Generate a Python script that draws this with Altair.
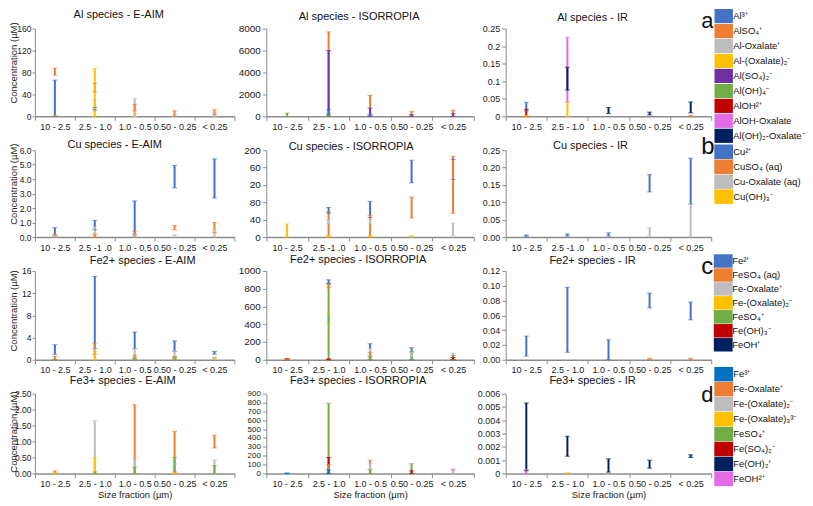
import altair as alt
import pandas as pd

FONT = "Liberation Sans"

FRACTIONS = ["10 - 2.5", "2.5 - 1.0", "1.0 - 0.5", "0.50 - 0.25", "< 0.25"]
FRACTIONS_CU = ["10 - 2.5", "2.5 -1 .0", "1.0 - 0.5", "0.50 - 0.25", "< 0.25"]

AL_SPECIES = ["Al³⁺", "AlSO₄⁺", "Al-Oxalate⁺", "Al-(Oxalate)₂⁻", "Al(SO₄)₂⁻",
              "Al(OH)₄⁻", "AlOH²⁺", "AlOH-Oxalate", "Al(OH)₂-Oxalate⁻"]
AL_COLORS = ["#4472C4", "#ED7D31", "#BDBDBD", "#FFC000", "#7030A0",
             "#70AD47", "#C00000", "#E36BE3", "#002060"]
CU_SPECIES = ["Cu²⁺", "CuSO₄ (aq)", "Cu-Oxalate (aq)", "Cu(OH)₃⁻"]
CU_COLORS = ["#4472C4", "#ED7D31", "#BDBDBD", "#FFC000"]
FE2_SPECIES = ["Fe²⁺", "FeSO₄ (aq)", "Fe-Oxalate⁺", "Fe-(Oxalate)₂⁻", "FeSO₄⁺", "Fe(OH)₃⁻", "FeOH⁺"]
FE2_COLORS = ["#4472C4", "#ED7D31", "#BDBDBD", "#FFC000", "#70AD47", "#C00000", "#002060"]
FE3_SPECIES = ["Fe³⁺", "Fe-Oxalate⁺", "Fe-(Oxalate)₂⁻", "Fe-(Oxalate)₃³⁻", "FeSO₄⁺",
               "Fe(SO₄)₂⁻", "Fe(OH)₂⁺", "FeOH²⁺"]
FE3_COLORS = ["#0070C0", "#ED7D31", "#BDBDBD", "#FFC000", "#70AD47", "#C00000", "#002060", "#E36BE3"]

# (fraction index, species index, low, high) in drawing order
AL_EAIM = [(0, 3, 0, 2), (0, 0, 0, 66), (0, 1, 75, 88),
           (1, 2, 10, 30), (1, 0, 12, 16), (1, 1, 45, 60), (1, 3, 0, 87),
           (2, 3, 0, 5), (2, 2, 0, 32), (2, 1, 10, 22),
           (3, 2, 0, 4), (3, 1, 0, 10),
           (4, 2, 0, 7), (4, 1, 3, 12)]
AL_ISO = [(0, 5, 0, 300),
          (1, 1, 0, 7700), (1, 4, 0, 6000), (1, 0, 200, 600), (1, 5, 0, 100),
          (2, 1, 0, 1900), (2, 4, 0, 750), (2, 0, 100, 200),
          (3, 1, 0, 450), (3, 4, 0, 150),
          (4, 1, 0, 550), (4, 4, 0, 250)]
AL_IR = [(0, 0, 0.015, 0.04), (0, 6, 0, 0.02), (0, 3, 0, 0.002),
         (1, 7, 0.04, 0.225), (1, 8, 0.075, 0.14), (1, 3, 0, 0.04),
         (2, 8, 0.008, 0.025),
         (3, 8, 0.004, 0.012),
         (4, 8, 0.01, 0.041), (4, 1, 0, 0.003)]

CU_EAIM = [(0, 0, 0.1, 0.65), (0, 1, 0, 0.2), (0, 2, 0, 0.1),
           (1, 0, 0.5, 1.15), (1, 2, 0.2, 0.7), (1, 1, 0, 0.2),
           (2, 0, 0.2, 2.5), (2, 1, 0.05, 0.4), (2, 2, 0, 0.2),
           (3, 0, 3.4, 4.95), (3, 1, 0.5, 0.8), (3, 2, 0, 0.15),
           (4, 0, 2.7, 5.4), (4, 1, 0.3, 1.0), (4, 2, 0, 0.5)]
CU_ISO = [(0, 3, 0, 30),
          (1, 1, 0, 58), (1, 0, 55, 68), (1, 2, 30, 40), (1, 3, 0, 3),
          (2, 0, 45, 82), (2, 1, 0, 50), (2, 2, 30, 40), (2, 3, 0, 3),
          (3, 0, 125, 177), (3, 1, 44, 92), (3, 3, 0, 3),
          (4, 0, 133, 179), (4, 1, 55, 186), (4, 2, 3, 32)]
CU_IR = [(0, 0, 0.002, 0.006),
         (1, 0, 0.003, 0.009),
         (2, 0, 0.003, 0.012),
         (3, 0, 0.13, 0.18), (3, 2, 0.003, 0.027),
         (4, 0, 0.095, 0.227), (4, 2, 0, 0.094)]

FE2_EAIM = [(0, 0, 1, 2.7), (0, 1, 0, 0.6), (0, 4, 0, 0.1),
            (1, 0, 2, 15), (1, 1, 1, 3), (1, 2, 0, 2), (1, 3, 0, 1.5),
            (2, 0, 2, 5), (2, 2, 0.5, 2), (2, 1, 0.2, 0.8), (2, 4, 0, 0.3),
            (3, 0, 1.5, 3.4), (3, 2, 0.4, 1.5), (3, 1, 0.2, 0.6), (3, 4, 0, 0.5),
            (4, 0, 1, 1.5), (4, 3, 0.2, 0.5), (4, 2, 0, 0.4)]
FE2_ISO = [(0, 5, 0, 15), (0, 1, 0, 8),
           (1, 3, 400, 520), (1, 4, 0, 850), (1, 1, 810, 860), (1, 0, 860, 900), (1, 5, 0, 10),
           (2, 0, 0, 180), (2, 2, 50, 130), (2, 1, 20, 80), (2, 4, 0, 40),
           (3, 0, 0, 135), (3, 4, 0, 90), (3, 2, 30, 80),
           (4, 2, 0, 75), (4, 4, 0, 50), (4, 5, 0, 25)]
FE2_IR = [(0, 0, 0.005, 0.032),
          (1, 0, 0.01, 0.098),
          (2, 0, 0, 0.027),
          (3, 0, 0.07, 0.09), (3, 1, 0, 0.002),
          (4, 0, 0.054, 0.078), (4, 1, 0, 0.002)]

FE3_EAIM = [(0, 1, 0, 0.08), (0, 3, 0, 0.02),
            (1, 2, 0, 1.65), (1, 3, 0, 0.48), (1, 4, 0, 0.05),
            (2, 1, 0, 2.15), (2, 2, 0, 0.45), (2, 4, 0, 0.2),
            (3, 1, 0.05, 1.32), (3, 2, 0, 0.3), (3, 4, 0, 0.5), (3, 3, 0, 0.02),
            (4, 1, 0.8, 1.2), (4, 2, 0, 0.42), (4, 4, 0, 0.25)]
FE3_ISO = [(0, 0, 0, 5),
           (1, 4, 0, 790), (1, 5, 0, 180), (1, 1, 0, 100), (1, 0, 0, 40),
           (2, 1, 0, 150), (2, 2, 50, 110), (2, 4, 0, 40),
           (3, 4, 0, 110), (3, 5, 0, 30),
           (4, 7, 0, 50), (4, 2, 0, 30)]
FE3_IR = [(0, 6, 0.0002, 0.0053), (0, 7, 0, 0.0003),
          (1, 6, 0.0013, 0.0028), (1, 3, 0, 0.00005),
          (2, 6, 0.0001, 0.0011),
          (3, 6, 0.0004, 0.001),
          (4, 6, 0.0012, 0.0014)]

COL_W = [200, 208, 206]
ROW_H = [88, 87, 89, 80]


def to_df(rows, species, fracs):
    df = pd.DataFrame(rows, columns=["fi", "si", "low", "high"])
    df["frac"] = [fracs[i] for i in df["fi"]]
    df["species"] = [species[i] for i in df["si"]]
    return df[["frac", "species", "low", "high"]]


def legend_chart(species, colors, letter, ly, sym_h, ratio, h, letter_y, letter_size):
    df = pd.DataFrame({"species": species})
    leg = alt.Legend(
        orient="none", legendX=-27, legendY=ly, title=None,
        symbolType=f"M-{ratio},-1H{ratio}V1H-{ratio}Z", symbolSize=sym_h * sym_h,
        symbolStrokeWidth=0, symbolOpacity=1, rowPadding=0,
        labelFontSize=9.5, labelOffset=2, labelFont=FONT, labelColor="#111111",
        labelLimit=80, padding=0, offset=0)
    swatches = alt.Chart(df).mark_square(opacity=0, filled=True).encode(
        color=alt.Color("species:N", scale=alt.Scale(domain=species, range=colors),
                        legend=leg)
    )
    tag = alt.Chart(pd.DataFrame({"letter": [letter]})).mark_text(
        align="left", baseline="alphabetic", fontSize=letter_size, font=FONT,
        color="#111111"
    ).encode(text="letter:N", x=alt.value(-42), y=alt.value(letter_y))
    return alt.layer(swatches, tag).properties(width=1, height=h)


def panel(rows, species, colors, fracs, title, dx, toff, tdy, ymax, ystep, fmt,
          w, h, first_col=False, last_row=False, label_expr=None, ylab=9.5, title_shift=0):
    df = to_df(rows, species, fracs)
    n = int(round(ymax / ystep))
    tick_vals = [round(i * ystep, 6) for i in range(n + 1)]

    xkw = dict(tickBand="extent", labelAngle=0, labelOverlap=False, labelFlush=False,
               labelFontSize=9, labelPadding=2, tickSize=4, domainWidth=1.5)
    if last_row:
        xkw.update(titleFontSize=9.5, titlePadding=1)
    ykw = dict(values=tick_vals, format=fmt, labelOverlap=False)
    if label_expr:
        ykw["labelExpr"] = label_expr
    if first_col:
        ykw.update(titleFontSize=9.5, titlePadding=0, labelFontSize=8.5,
                   tickSize=3, labelPadding=1, minExtent=16, maxExtent=16,
                   titleY=h / 2 + title_shift)
    else:
        ykw.update(labelFontSize=ylab, tickSize=4, labelPadding=2)

    xtitle = "Size fraction (µm)" if last_row else None
    ytitle = "Concentration (µM)" if first_col else None
    x = alt.X("frac:N", scale=alt.Scale(domain=fracs, paddingInner=0, paddingOuter=0),
              axis=alt.Axis(**xkw), title=xtitle)
    color = alt.Color("species:N", scale=alt.Scale(domain=species, range=colors),
                      legend=None)
    yscale = alt.Scale(domain=[0, ymax], nice=False, zero=True)
    base = alt.Chart(df)
    bars = base.mark_bar(size=2).encode(
        x=x,
        y=alt.Y("low:Q", scale=yscale, axis=alt.Axis(**ykw), title=ytitle),
        y2="high:Q",
        color=color,
    )
    caps = base.transform_fold(["low", "high"], as_=["edge", "val"]).mark_tick(
        size=5, thickness=1).encode(
        x=x,
        y=alt.Y("val:Q", scale=yscale, axis=alt.Axis(**ykw), title=ytitle),
        color=color,
    )
    return alt.layer(bars, caps).properties(
        width=w, height=h,
        title=alt.TitleParams(title, dx=dx, dy=tdy, offset=toff, anchor="middle",
                              frame="group", fontSize=11, fontWeight="normal",
                              font=FONT, color="#111111"))


panels = [
    panel(AL_EAIM, AL_SPECIES, AL_COLORS, FRACTIONS, "Al species - E-AIM", -16, 2, 0,
          160, 40, "d", COL_W[0], ROW_H[0], first_col=True, title_shift=-10),
    panel(AL_ISO, AL_SPECIES, AL_COLORS, FRACTIONS, "Al species - ISORROPIA", -11, 2, 0,
          8000, 2000, "d", COL_W[1], ROW_H[0], ylab=10),
    panel(AL_IR, AL_SPECIES, AL_COLORS, FRACTIONS, "Al species - IR", -16, 2, 0,
          0.25, 0.05, "~g", COL_W[2], ROW_H[0], ylab=9),
    legend_chart(AL_SPECIES, AL_COLORS, "a", -20, 14.2, 1.3, ROW_H[0], -1, 22),

    panel(CU_EAIM, CU_SPECIES, CU_COLORS, FRACTIONS_CU, "Cu species - E-AIM", -20, 0, 7,
          6, 1, ".1f", COL_W[0], ROW_H[1], first_col=True, title_shift=-10),
    panel(CU_ISO, CU_SPECIES, CU_COLORS, FRACTIONS_CU, "Cu species - ISORROPIA", -19, 0, 7,
          200, 40, "d", COL_W[1], ROW_H[1], ylab=10,
          label_expr="datum.value == 160 ? '60' : (datum.value == 120 ? '20' : datum.label)"),
    panel(CU_IR, CU_SPECIES, CU_COLORS, FRACTIONS_CU, "Cu species - IR", -18, 0, 5,
          0.25, 0.05, ".2f", COL_W[2], ROW_H[1], ylab=9),
    legend_chart(CU_SPECIES, CU_COLORS, "b", -6, 14.5, 1.3, ROW_H[1], 4, 24),

    panel(FE2_EAIM, FE2_SPECIES, FE2_COLORS, FRACTIONS, "Fe2+ species - E-AIM", 8, 1, 0,
          16, 4, "d", COL_W[0], ROW_H[2], first_col=True, title_shift=-5),
    panel(FE2_ISO, FE2_SPECIES, FE2_COLORS, FRACTIONS, "Fe2+ species - ISORROPIA", -12, 1, 0,
          1000, 200, "d", COL_W[1], ROW_H[2], ylab=10),
    panel(FE2_IR, FE2_SPECIES, FE2_COLORS, FRACTIONS, "Fe2+ species - IR", -16, 1, 0,
          0.12, 0.02, ".2f", COL_W[2], ROW_H[2], ylab=9),
    legend_chart(FE2_SPECIES, FE2_COLORS, "c", -17, 13.5, 1.4, ROW_H[2], 3, 24),

    panel(FE3_EAIM, FE3_SPECIES, FE3_COLORS, FRACTIONS, "Fe3+ species - E-AIM", -12, 4, 0,
          2.5, 0.5, ".2f", COL_W[0], ROW_H[3], first_col=True, last_row=True, title_shift=-2),
    panel(FE3_ISO, FE3_SPECIES, FE3_COLORS, FRACTIONS, "Fe3+ species - ISORROPIA", -12, 4, 0,
          900, 100, "d", COL_W[1], ROW_H[3], last_row=True, ylab=8),
    panel(FE3_IR, FE3_SPECIES, FE3_COLORS, FRACTIONS, "Fe3+ species - IR", -16, 4, 0,
          0.006, 0.001, "~g", COL_W[2], ROW_H[3], last_row=True, ylab=9),
    legend_chart(FE3_SPECIES, FE3_COLORS, "d", -27, 14.5, 1.3, ROW_H[3], 8, 22),
]

chart = alt.concat(
    *panels, columns=4, spacing={"row": 34, "column": 32}, bounds="flush", align="each"
).resolve_scale(
    color="independent", x="independent", y="independent"
).properties(
    padding={"left": 0, "top": 0, "right": 0, "bottom": 0}
).configure(
    font=FONT
).configure_view(
    stroke=None
).configure_axis(
    domainColor="#8c8c8c", tickColor="#8c8c8c", labelColor="#1a1a1a",
    titleColor="#1a1a1a", labelFont=FONT, titleFont=FONT, titleFontWeight="normal",
    grid=False
)

chart.save("out.html", embed_options={"renderer": "svg", "actions": False})
